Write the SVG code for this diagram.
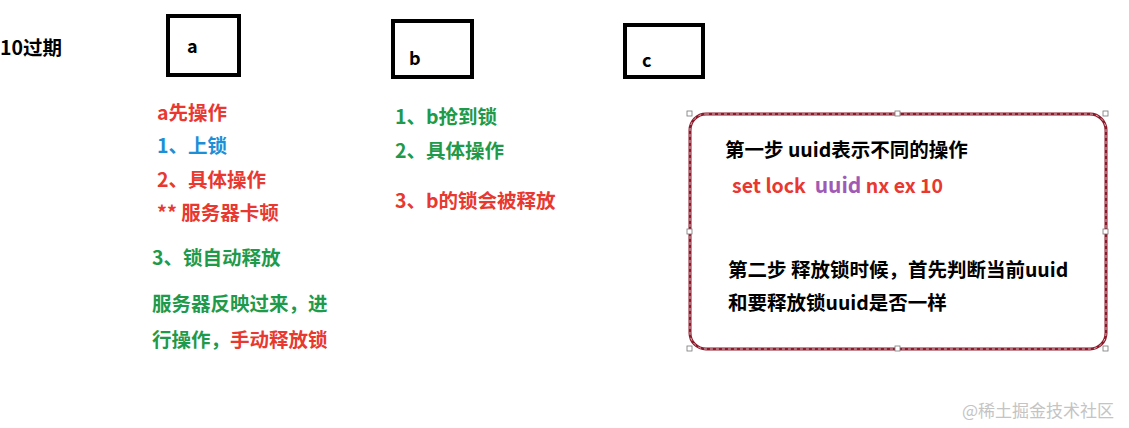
<svg xmlns="http://www.w3.org/2000/svg" width="1129" height="428" viewBox="0 0 1129 428">
<style>
text{font-family:"Noto Sans CJK SC","Liberation Sans",sans-serif;font-weight:bold;font-size:19.5px}
.r{fill:#e8382f}.g{fill:#1f9a4a}.b{fill:#1d8fd6}.k{fill:#000}.p{fill:#a05ab5;font-size:21px}
.lbl{font-size:18px}
.wm{fill:#c4c4c4;font-weight:normal;font-size:17px}
.box{fill:#fff;stroke:#000;stroke-width:4}
.h{fill:#fff;stroke:#777;stroke-width:0.8}
</style>
<rect width="1129" height="428" fill="#fff"/>
<text x="0" y="55" class="k">10过期</text>
<g id="node-a"><rect class="box" x="168" y="16" width="71" height="59"/><text x="187" y="53" class="k lbl">a</text></g>
<g id="node-b"><rect class="box" x="393" y="21" width="79" height="56"/><text x="409" y="65" class="k lbl">b</text></g>
<g id="node-c"><rect class="box" x="625" y="25" width="78" height="52"/><text x="642" y="67" class="k lbl">c</text></g>
<g id="notes-a">
<text x="157" y="120" class="r">a先操作</text>
<text x="157" y="153" class="b">1、上锁</text>
<text x="157" y="187" class="r">2、具体操作</text>
<text x="157" y="220" class="r">** 服务器卡顿</text>
<text x="152" y="265" class="g">3、锁自动释放</text>
<text x="152" y="311" class="g">服务器反映过来，进</text>
<text x="152" y="347"><tspan class="g">行操作，</tspan><tspan class="r">手动释放锁</tspan></text>
</g>
<g id="notes-b">
<text x="395" y="124" class="g">1、b抢到锁</text>
<text x="395" y="158" class="g">2、具体操作</text>
<text x="395" y="208" class="r">3、b的锁会被释放</text>
</g>
<g id="note-box">
<rect x="690" y="114" width="416" height="235" rx="16" fill="#fff" stroke="#8b1a2b" stroke-width="3"/>
<rect x="690" y="114" width="416" height="235" rx="16" fill="none" stroke="#fff" stroke-width="0.7" stroke-dasharray="3 3"/>
<rect class="h" x="687" y="111" width="5" height="5"/><rect class="h" x="895" y="111" width="5" height="5"/><rect class="h" x="1103" y="111" width="5" height="5"/>
<rect class="h" x="687" y="229" width="5" height="5"/><rect class="h" x="1103" y="229" width="5" height="5"/>
<rect class="h" x="687" y="346" width="5" height="5"/><rect class="h" x="895" y="346" width="5" height="5"/><rect class="h" x="1103" y="346" width="5" height="5"/>
<text x="725" y="157" class="k">第一步 uuid表示不同的操作</text>
<text x="732" y="193" xml:space="preserve"><tspan class="r">set lock  </tspan><tspan class="p">uuid</tspan><tspan class="r"> nx ex 10</tspan></text>
<text x="728" y="277" class="k">第二步 释放锁时候，首先判断当前uuid</text>
<text x="728" y="310" class="k">和要释放锁uuid是否一样</text>
</g>
<g id="connectors"/>
<text x="962" y="417" class="wm">@稀土掘金技术社区</text>
</svg>
